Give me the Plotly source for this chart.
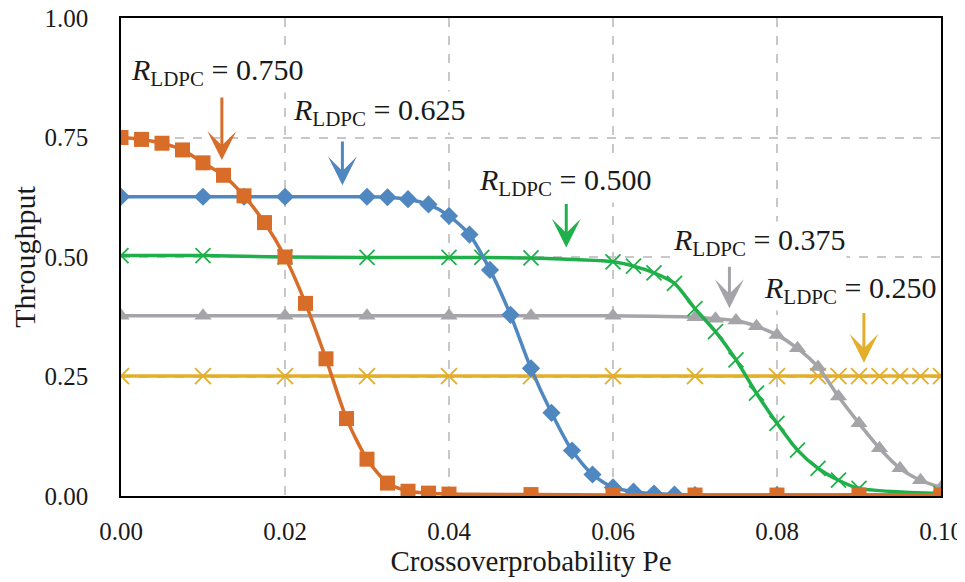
import plotly.graph_objects as go

# ---------------- data ----------------
x_r750 = [0, 0.0025, 0.005, 0.0075, 0.01, 0.0125, 0.015, 0.0175, 0.02, 0.0225, 0.025, 0.0275,
          0.03, 0.0325, 0.035, 0.0375, 0.04, 0.05, 0.06, 0.07, 0.08, 0.09, 0.1]
y_r750 = [0.750, 0.746, 0.738, 0.724, 0.697, 0.671, 0.628, 0.572, 0.500, 0.403, 0.287, 0.162,
          0.077, 0.027, 0.010, 0.006, 0.004, 0.003, 0.002, 0.002, 0.002, 0.002, 0.002]

x_r625 = [0, 0.01, 0.015, 0.02, 0.03, 0.0325, 0.035, 0.0375, 0.04, 0.0425, 0.045, 0.0475, 0.05,
          0.0525, 0.055, 0.0575, 0.06, 0.0625, 0.065, 0.0675, 0.07, 0.08, 0.09, 0.1]
y_r625 = [0.626, 0.626, 0.626, 0.626, 0.626, 0.625, 0.621, 0.610, 0.586, 0.547, 0.473, 0.379, 0.267,
          0.174, 0.095, 0.045, 0.018, 0.009, 0.005, 0.003, 0.002, 0.002, 0.002, 0.002]

x_r500 = [0, 0.01, 0.02, 0.03, 0.04, 0.044, 0.05, 0.06, 0.0625, 0.065, 0.0675, 0.07, 0.0725,
          0.075, 0.0775, 0.08, 0.0825, 0.085, 0.0875, 0.09, 0.1]
y_r500 = [0.503, 0.503, 0.500, 0.499, 0.499, 0.499, 0.498, 0.490, 0.481, 0.467, 0.445, 0.392, 0.344,
          0.285, 0.215, 0.152, 0.096, 0.058, 0.033, 0.016, 0.005]

x_r375 = [0, 0.01, 0.02, 0.03, 0.04, 0.05, 0.06, 0.07, 0.0725, 0.075, 0.0775, 0.08, 0.0825,
          0.085, 0.0875, 0.09, 0.0925, 0.095, 0.0975, 0.1]
y_r375 = [0.377, 0.377, 0.377, 0.377, 0.377, 0.377, 0.377, 0.374, 0.371, 0.367, 0.355, 0.337, 0.309,
          0.270, 0.208, 0.152, 0.100, 0.058, 0.033, 0.018]

x_r250 = [0, 0.01, 0.02, 0.03, 0.04, 0.05, 0.06, 0.07, 0.08, 0.085, 0.0875, 0.09, 0.0925,
          0.095, 0.0975, 0.1]
y_r250 = [0.251] * len(x_r250)

x_ticks = [0.00, 0.02, 0.04, 0.06, 0.08, 0.10]
x_tick_text = ["0.00", "0.02", "0.04", "0.06", "0.08", "0.10"]
y_ticks = [0.00, 0.25, 0.50, 0.75, 1.00]
y_tick_text = ["0.00", "0.25", "0.50", "0.75", "1.00"]

rate_labels = ["0.750", "0.625", "0.500", "0.375", "0.250"]
# label centre (x, y) and arrow tail/tip, in data units
label_pos = [(0.0117, 0.886), (0.0315, 0.804), (0.0542, 0.657), (0.0778, 0.531), (0.0889, 0.430)]
arrow_x = [0.0123, 0.0270, 0.0543, 0.0742, 0.0906]
arrow_tail_y = [0.837, 0.745, 0.614, 0.483, 0.386]
arrow_tip_y = [0.703, 0.650, 0.520, 0.393, 0.279]

# ---------------- style ----------------
C_OR = "#D86D2A"
C_BL = "#4F87C0"
C_GR = "#20B04B"
C_GY = "#A5A5A9"
C_YE = "#E3AE29"
colors = [C_OR, C_BL, C_GR, C_GY, C_YE]
FONT = "Liberation Serif, Times New Roman, serif"

fig = go.Figure()

def add(x, y, color, symbol, size, open_=False):
    marker = dict(symbol=symbol, size=size, color=color)
    if open_:
        marker["line"] = dict(color=color, width=1.8)
    fig.add_trace(go.Scatter(
        x=x, y=y, mode="lines+markers",
        line=dict(color=color, width=3.5, shape="spline", smoothing=0.7),
        marker=marker, showlegend=False, hoverinfo="x+y"))

add(x_r250, y_r250, C_YE, "x-thin", 16, True)
add(x_r375, y_r375, C_GY, "triangle-up", 15)
add(x_r500, y_r500, C_GR, "x-thin", 15, True)
add(x_r625, y_r625, C_BL, "diamond", 14)
add(x_r750, y_r750, C_OR, "square", 15)

annotations = []
for lab, (lx, ly), ax_, ty, hy, col in zip(rate_labels, label_pos, arrow_x,
                                            arrow_tail_y, arrow_tip_y, colors):
    annotations.append(dict(
        x=lx, y=ly, xref="x", yref="y", showarrow=False,
        text="<i>R</i><sub>LDPC</sub> = " + lab,
        font=dict(family=FONT, size=30, color="#1a1a1a"),
        bgcolor="white", xanchor="center", yanchor="middle"))
    annotations.append(dict(
        x=ax_, y=hy, xref="x", yref="y", ax=ax_, ay=ty, axref="x", ayref="y",
        text="", showarrow=True, arrowhead=3, arrowsize=1.6, arrowwidth=3,
        arrowcolor=col, standoff=0, startstandoff=0))

grid = dict(showgrid=True, gridcolor="#C8C8C8", griddash="dash", gridwidth=1.5)

# the page body adds an 8 px margin, so the figure is offset to compensate
fig.update_layout(
    width=957, height=574,
    margin=dict(l=113, r=24, t=10, b=86),
    paper_bgcolor="white", plot_bgcolor="white",
    font=dict(family=FONT, size=25, color="#1a1a1a"),
    annotations=annotations,
    xaxis=dict(range=[0, 0.1], tickvals=x_ticks, ticktext=x_tick_text,
               showline=True, linecolor="black", linewidth=1.5, mirror=True,
               ticks="outside", ticklen=12, tickcolor="rgba(0,0,0,0)",
               zeroline=False, automargin=False, ticklabeloverflow="allow",
               title=dict(text="Crossoverprobability Pe", standoff=6,
                          font=dict(size=29)),
               **grid),
    yaxis=dict(range=[0, 1], tickvals=y_ticks, ticktext=y_tick_text,
               showline=True, linecolor="black", linewidth=1.5, mirror=True,
               ticks="outside", ticklen=26, tickcolor="rgba(0,0,0,0)",
               zeroline=False, automargin=False, ticklabeloverflow="allow",
               title=dict(text="Throughput", standoff=10, font=dict(size=30)),
               **grid),
)

fig.write_html("out.html")
